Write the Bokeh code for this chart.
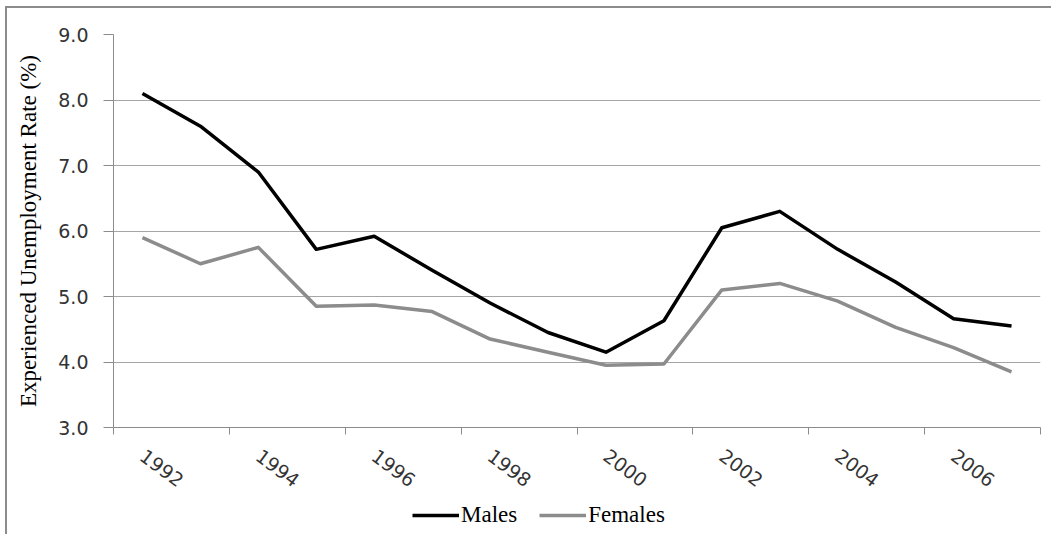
from bokeh.plotting import figure
from bokeh.layouts import column
from bokeh.models import Range1d, FixedTicker, Legend, LegendItem, ColumnDataSource
from bokeh.embed import file_html
from bokeh.resources import INLINE

years = list(range(1992, 2008))
males = [8.1, 7.6, 6.9, 5.72, 5.92, 5.4, 4.9, 4.45, 4.15, 4.63, 6.05, 6.3, 5.72, 5.22, 4.66, 4.55]
females = [5.9, 5.5, 5.75, 4.85, 4.87, 4.77, 4.35, 4.15, 3.95, 3.97, 5.1, 5.2, 4.93, 4.53, 4.22, 3.85]
y_ticks = [3, 4, 5, 6, 7, 8, 9]
x_label_years = [1992, 1994, 1996, 1998, 2000, 2002, 2004, 2006]
x_boundaries = [1991.5, 1993.5, 1995.5, 1997.5, 1999.5, 2001.5, 2003.5, 2005.5, 2007.5]

GRID = "#a6a6a6"
AXIS = "#8c8c8c"
TXT = "#333333"
BORDER = "2px solid #8c8c8c"
MALE_STYLE = dict(line_color="black", line_width=3.5, line_join="round")
FEMALE_STYLE = dict(line_color="#8c8c8c", line_width=3.5, line_join="round")

src = ColumnDataSource(dict(year=years, males=males, females=females))

p = figure(width=1046, height=490, output_backend="svg", toolbar_location=None,
           x_range=Range1d(1991.5, 2007.5), y_range=Range1d(3, 9),
           min_border_left=106, min_border_right=13, min_border_top=26, min_border_bottom=71)
p.margin = (6, 0, 0, 5)
p.styles = {"border-left": BORDER, "border-top": BORDER}
p.outline_line_color = None
p.background_fill_color = "white"
p.border_fill_color = "white"

p.line("year", "males", source=src, **MALE_STYLE)
p.line("year", "females", source=src, **FEMALE_STYLE)

# y axis
p.yaxis.ticker = FixedTicker(ticks=y_ticks)
p.yaxis.major_label_overrides = {v: f"{v:.1f}" for v in y_ticks}
p.yaxis.axis_line_color = AXIS
p.yaxis.major_tick_line_color = AXIS
p.yaxis.major_tick_out = 10
p.yaxis.major_tick_in = 0
p.yaxis.minor_tick_line_color = None
p.yaxis.major_label_standoff = 15
p.yaxis.major_label_text_font = "DejaVu Sans"
p.yaxis.major_label_text_font_size = "19px"
p.yaxis.major_label_text_color = TXT
p.yaxis.axis_label = "Experienced Unemployment Rate (%)"
p.yaxis.axis_label_text_font = "Liberation Serif"
p.yaxis.axis_label_text_font_style = "normal"
p.yaxis.axis_label_text_font_size = "23px"
p.yaxis.axis_label_text_color = "black"
p.yaxis.axis_label_standoff = 14

# x axis
p.xaxis.ticker = FixedTicker(ticks=x_label_years, minor_ticks=x_boundaries)
p.xaxis.axis_line_color = AXIS
p.xaxis.major_tick_line_color = None
p.xaxis.major_tick_out = 0
p.xaxis.major_tick_in = 0
p.xaxis.minor_tick_line_color = AXIS
p.xaxis.minor_tick_out = 7
p.xaxis.minor_tick_in = 0
p.xaxis.major_label_orientation = -0.64
p.xaxis.major_label_standoff = 19
p.xaxis.major_label_text_font = "DejaVu Sans"
p.xaxis.major_label_text_font_size = "19px"
p.xaxis.major_label_text_color = TXT

p.xgrid.grid_line_color = None
p.ygrid.ticker = FixedTicker(ticks=y_ticks)
p.ygrid.grid_line_color = GRID
p.ygrid.grid_line_width = 1

# legend strip below the chart (same outer border on the left)
lg = figure(width=1046, height=38, output_backend="svg", toolbar_location=None,
            x_range=Range1d(1991.5, 2007.5), y_range=Range1d(100, 101),
            min_border_left=0, min_border_right=0, min_border_top=0, min_border_bottom=0)
lg.margin = (0, 0, 0, 5)
lg.styles = {"border-left": BORDER}
lg.outline_line_color = None
lg.axis.visible = False
lg.grid.grid_line_color = None
lm = lg.line("year", "males", source=src, **MALE_STYLE)
lf = lg.line("year", "females", source=src, **FEMALE_STYLE)

legend = Legend(items=[LegendItem(label="Males", renderers=[lm]),
                       LegendItem(label="Females", renderers=[lf])],
                orientation="horizontal", location=(299, 6))
legend.glyph_width = 47
legend.glyph_height = 20
legend.label_standoff = 2
legend.spacing = 22
legend.padding = 0
legend.margin = 0
legend.border_line_color = None
legend.background_fill_alpha = 0
legend.label_text_font = "Liberation Serif"
legend.label_text_font_size = "23px"
legend.label_text_color = "black"
lg.add_layout(legend, "center")

layout = column(p, lg, spacing=0)
open("out.html", "w").write(file_html(layout, INLINE))
